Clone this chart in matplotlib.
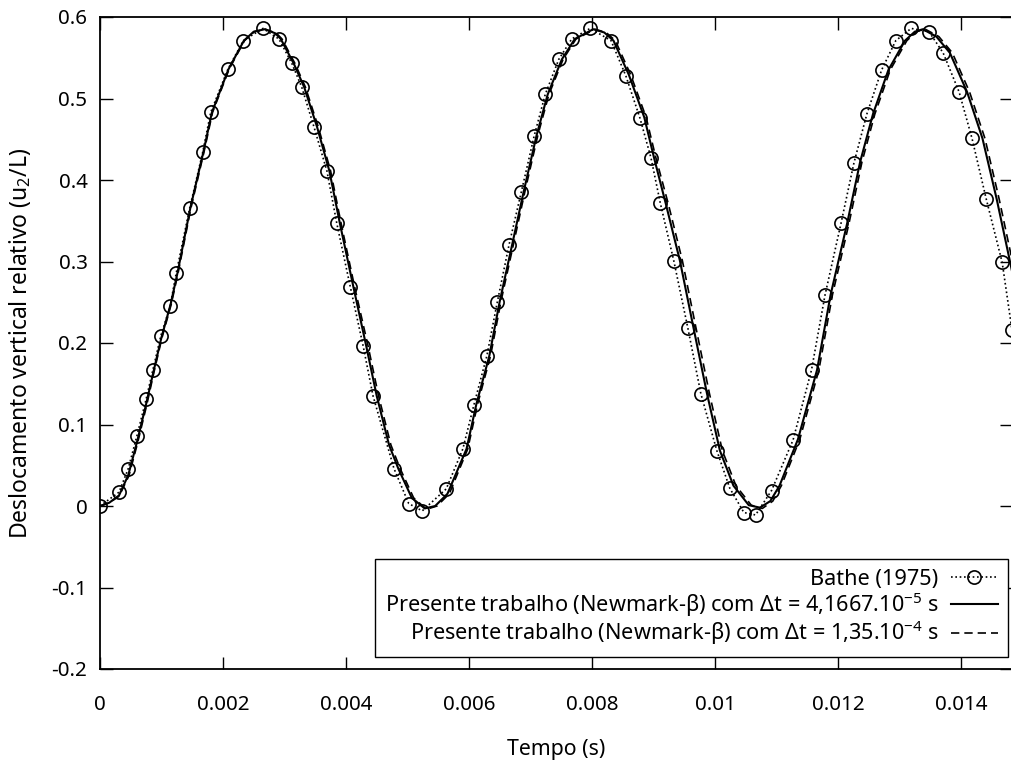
import matplotlib
matplotlib.use('Agg')
import matplotlib.pyplot as plt
from matplotlib.ticker import FixedLocator, FuncFormatter

plt.rcParams['font.family'] = ['Noto Sans', 'DejaVu Sans']
plt.rcParams['mathtext.fontset'] = 'custom'
plt.rcParams['mathtext.rm'] = 'Noto Sans'
plt.rcParams['mathtext.it'] = 'Noto Sans:italic'
plt.rcParams['mathtext.bf'] = 'Noto Sans:bold'
plt.rcParams['axes.unicode_minus'] = False

# ---- data (time in ms, displacement u2/L) ----
bathe_t_ms = [0.00, 0.31, 0.46, 0.60, 0.75, 0.86, 0.99, 1.14, 1.24, 1.46, 1.67, 1.80,
              2.08, 2.33, 2.65, 2.91, 3.12, 3.28, 3.48, 3.69, 3.85, 4.07, 4.28, 4.44,
              4.78, 5.02, 5.24, 5.63, 5.90, 6.08, 6.29, 6.46, 6.65, 6.85, 7.06, 7.24,
              7.46, 7.67, 7.97, 8.31, 8.55, 8.78, 8.96, 9.11, 9.33, 9.56, 9.77, 10.03,
              10.24, 10.47, 10.66, 10.92, 11.27, 11.57, 11.79, 12.05, 12.26, 12.47,
              12.71, 12.94, 13.19, 13.48, 13.71, 13.97, 14.18, 14.41, 14.67, 14.83]
bathe_u = [0.000, 0.017, 0.046, 0.086, 0.131, 0.167, 0.209, 0.245, 0.286, 0.366, 0.434, 0.483,
           0.536, 0.571, 0.586, 0.573, 0.543, 0.514, 0.465, 0.411, 0.347, 0.269, 0.196, 0.135,
           0.046, 0.003, -0.006, 0.021, 0.070, 0.124, 0.184, 0.250, 0.320, 0.385, 0.454, 0.505,
           0.548, 0.573, 0.586, 0.571, 0.528, 0.476, 0.427, 0.372, 0.301, 0.218, 0.138, 0.068,
           0.022, -0.008, -0.011, 0.019, 0.081, 0.167, 0.259, 0.347, 0.421, 0.481,
           0.535, 0.571, 0.586, 0.582, 0.556, 0.508, 0.451, 0.377, 0.299, 0.216]

nm1_t_ms = [0.00, 0.15, 0.31, 0.46, 0.60, 0.75, 0.87, 1.00, 1.15, 1.26, 1.47, 1.68, 1.82,
            2.09, 2.34, 2.50, 2.68, 2.85, 2.94, 3.15, 3.32, 3.53, 3.73, 3.90, 4.12, 4.33,
            4.50, 4.70, 4.85, 5.07, 5.28, 5.45, 5.65, 5.96, 6.12, 6.33, 6.50, 6.70, 6.89,
            7.10, 7.28, 7.51, 7.72, 8.02, 8.20, 8.35, 8.60, 8.85, 9.01, 9.20, 9.43, 9.65,
            9.87, 10.08, 10.30, 10.55, 10.73, 10.90, 11.05, 11.35, 11.66, 11.88, 12.15,
            12.36, 12.57, 12.82, 13.09, 13.25, 13.38, 13.60, 13.82, 14.10, 14.35, 14.58,
            14.80, 14.95]
nm1_u = [0.000, 0.004, 0.013, 0.038, 0.078, 0.125, 0.165, 0.207, 0.248, 0.286, 0.366, 0.434, 0.483,
         0.536, 0.571, 0.582, 0.585, 0.580, 0.573, 0.543, 0.514, 0.465, 0.411, 0.347, 0.269, 0.196,
         0.135, 0.075, 0.046, 0.010, -0.003, 0.000, 0.015, 0.070, 0.125, 0.184, 0.251, 0.320, 0.386,
         0.455, 0.505, 0.548, 0.573, 0.585, 0.581, 0.571, 0.529, 0.477, 0.427, 0.371, 0.301, 0.219,
         0.138, 0.068, 0.025, 0.001, -0.002, 0.006, 0.025, 0.082, 0.167, 0.259, 0.347,
         0.422, 0.481, 0.535, 0.571, 0.582, 0.585, 0.576, 0.556, 0.508, 0.451, 0.377,
         0.299, 0.245]

nm2_t_ms = [0.00, 0.15, 0.31, 0.47, 0.61, 0.76, 0.88, 1.01, 1.16, 1.27, 1.48, 1.69, 1.83,
            2.10, 2.35, 2.51, 2.69, 2.87, 2.96, 3.17, 3.34, 3.55, 3.75, 3.92, 4.14, 4.36,
            4.53, 4.73, 4.88, 5.10, 5.31, 5.48, 5.68, 5.98, 6.14, 6.35, 6.52, 6.72, 6.91,
            7.12, 7.30, 7.53, 7.74, 8.05, 8.23, 8.38, 8.63, 8.88, 9.04, 9.24, 9.47, 9.69,
            9.91, 10.12, 10.34, 10.59, 10.77, 10.94, 11.08, 11.38, 11.69, 11.91, 12.18,
            12.39, 12.60, 12.85, 13.12, 13.28, 13.42, 13.64, 13.86, 14.14, 14.39, 14.62,
            14.84, 14.99]
nm2_u = [0.000, 0.004, 0.012, 0.037, 0.077, 0.124, 0.165, 0.207, 0.248, 0.286, 0.366, 0.434, 0.483,
         0.536, 0.571, 0.582, 0.585, 0.580, 0.573, 0.543, 0.514, 0.465, 0.411, 0.347, 0.269, 0.196,
         0.135, 0.075, 0.046, 0.010, -0.004, 0.000, 0.015, 0.070, 0.125, 0.184, 0.251, 0.320, 0.386,
         0.455, 0.505, 0.548, 0.573, 0.585, 0.581, 0.571, 0.529, 0.477, 0.427, 0.371, 0.301, 0.219,
         0.138, 0.068, 0.025, 0.001, -0.003, 0.006, 0.025, 0.082, 0.167, 0.259, 0.347,
         0.422, 0.481, 0.535, 0.571, 0.582, 0.585, 0.576, 0.556, 0.508, 0.451, 0.377,
         0.299, 0.248]

x_ticks = [0, 0.002, 0.004, 0.006, 0.008, 0.010, 0.012, 0.014]
y_ticks = [-0.2, -0.1, 0.0, 0.1, 0.2, 0.3, 0.4, 0.5, 0.6]

labels = ['Bathe (1975)',
          r'Presente trabalho (Newmark-β) com Δt = 4,1667.10$^{\mathregular{-5}}$ s',
          r'Presente trabalho (Newmark-β) com Δt = 1,35.10$^{\mathregular{-4}}$ s']

def ms_to_s(v):
    return [x * 1e-3 for x in v]

FS = 15.6

fig = plt.figure(figsize=(10.12, 7.65), dpi=100)
ax = fig.add_axes([100 / 1012, 96 / 765, 912 / 1012, 652 / 765])

l1, = ax.plot(ms_to_s(bathe_t_ms), bathe_u, color='black', linestyle=(0, (1.0, 1.6)),
              linewidth=1.2, marker='o', markersize=9.5, markerfacecolor='none',
              markeredgewidth=1.2, markeredgecolor='black')
l2, = ax.plot(ms_to_s(nm1_t_ms), nm1_u, color='black', linestyle='-', linewidth=1.5)
l3, = ax.plot(ms_to_s(nm2_t_ms), nm2_u, color='black', linestyle=(0, (5, 3)), linewidth=1.2)

ax.set_xlim(0, 0.01483)
ax.set_ylim(-0.2, 0.6)
ax.xaxis.set_major_locator(FixedLocator(x_ticks))
ax.yaxis.set_major_locator(FixedLocator(y_ticks))
fmt = FuncFormatter(lambda v, p: '%g' % round(v, 6))
ax.xaxis.set_major_formatter(fmt)
ax.yaxis.set_major_formatter(fmt)

ax.tick_params(direction='in', length=9, width=1.0, top=True, right=True, labelsize=14.8)
ax.tick_params(axis='x', pad=19)
ax.tick_params(axis='y', pad=9)
for s in ax.spines.values():
    s.set_linewidth(1.3)

ax.set_xlabel('Tempo (s)', fontsize=15.3, labelpad=17)
ax.set_ylabel(r'Deslocamento vertical relativo (u$_{\mathregular{2}}$/L)', fontsize=16.5,
              va='center')
ax.yaxis.set_label_coords(-80 / 912, 0.5)

leg = ax.legend([l1, l2, l3], labels, loc='lower right', bbox_to_anchor=(0.9956, 0.0184),
                borderaxespad=0, markerfirst=False, fancybox=False, framealpha=1,
                edgecolor='black', fontsize=FS, handlelength=2.2, labelspacing=0.0,
                handletextpad=0.55, borderpad=0.45)
leg.get_frame().set_linewidth(1.0)

fig.savefig('out.png', dpi=100)
